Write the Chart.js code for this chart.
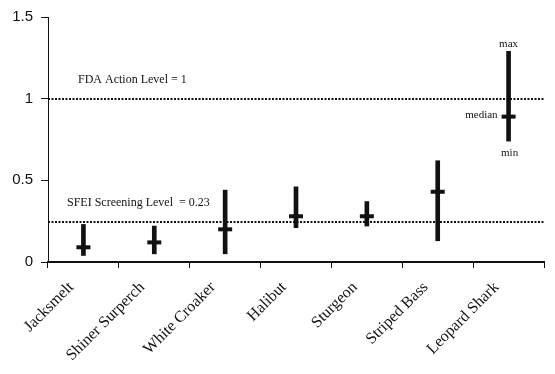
<!DOCTYPE html>
<html>
<head>
<meta charset="utf-8">
<script src="https://cdn.jsdelivr.net/npm/chart.js@4/dist/chart.umd.min.js"></script>
<style>
  body { margin: 0; background: #fff; }
  #wrap { width: 555px; height: 374px; }
</style>
</head>
<body>
<div id="wrap"><canvas id="myChart" width="555" height="374"></canvas></div>
<script>
// Species on the x axis
const categories = ['Jacksmelt', 'Shiner Surperch', 'White Croaker', 'Halibut', 'Sturgeon', 'Striped Bass', 'Leopard Shark'];

// Concentrations
const minValues = [0.04, 0.05, 0.05, 0.21, 0.22, 0.13, 0.74];
const medianValues = [0.09, 0.12, 0.20, 0.28, 0.28, 0.43, 0.89];
const maxValues = [0.23, 0.22, 0.44, 0.46, 0.37, 0.62, 1.29];

// Y axis ticks
const yTickValues = [0, 0.5, 1, 1.5];

// Reference levels (value where each dotted line sits) and their labels
const levelValues = [1, 0.245];
const levelLabels = ['FDA Action Level = 1', 'SFEI Screening Level  = 0.23'];

// Key words next to the last species
const keyLabels = ['max', 'median', 'min'];

const serif = '"Liberation Serif", "DejaVu Serif", serif';
const ink = '#111';

// Dotted lines and the text notes
const notesPlugin = {
  id: 'notes',
  beforeDatasetsDraw(chart) {
    var ctx = chart.ctx;
    var area = chart.chartArea;
    var y = chart.scales.y;
    var x = chart.scales.x;
    ctx.save();
    ctx.strokeStyle = ink;
    ctx.lineWidth = 2;
    ctx.setLineDash([2, 1.5]);
    levelValues.forEach(function (v) {
      var py = Math.round(y.getPixelForValue(v));
      ctx.beginPath();
      ctx.moveTo(area.left, py);
      ctx.lineTo(area.right, py);
      ctx.stroke();
    });
    ctx.setLineDash([]);

    ctx.fillStyle = ink;
    ctx.font = '12px ' + serif;
    ctx.textAlign = 'left';
    ctx.textBaseline = 'middle';
    ctx.fillText(levelLabels[0], area.left + 30, y.getPixelForValue(levelValues[0]) - 19);
    ctx.fillText(levelLabels[1], area.left + 19, y.getPixelForValue(levelValues[1]) - 19);

    // max / median / min beside the last range
    var last = categories.length - 1;
    var px = x.getPixelForValue(last);
    ctx.font = '11px ' + serif;
    ctx.textAlign = 'center';
    ctx.fillText(keyLabels[0], px, y.getPixelForValue(maxValues[last]) - 7);
    ctx.textAlign = 'right';
    ctx.fillText(keyLabels[1], px - 11, y.getPixelForValue(medianValues[last]) - 2);
    ctx.textAlign = 'center';
    ctx.fillText(keyLabels[2], px + 1, y.getPixelForValue(minValues[last]) + 12);
    ctx.restore();
  }
};

// Define the setup section
const data = {
  labels: categories,
  datasets: [{
    type: 'line',
    label: 'median',
    data: medianValues,
    showLine: false,
    pointStyle: 'line',
    pointRadius: 7,
    pointHoverRadius: 7,
    borderWidth: 4,
    borderColor: ink,
    backgroundColor: ink,
    order: 1
  }, {
    type: 'bar',
    label: 'range',
    data: categories.map(function (c, i) { return [minValues[i], maxValues[i]]; }),
    backgroundColor: ink,
    barThickness: 4,
    order: 2
  }]
};

// Define the config section
const config = {
  type: 'bar',
  data: data,
  plugins: [notesPlugin],
  options: {
    responsive: false,
    animation: false,
    events: [],
    layout: { padding: { top: 17, right: 0, bottom: 0, left: 0 } },
    plugins: {
      legend: { display: false },
      tooltip: { enabled: false }
    },
    scales: {
      x: {
        offset: true,
        afterFit: function (scale) { scale.height = 112; },
        border: { color: ink, width: 2 },
        grid: { drawOnChartArea: false, offset: true, color: ink, tickLength: 6 },
        ticks: {
          color: ink,
          minRotation: 45,
          maxRotation: 45,
          padding: 10,
          labelOffset: -12,
          font: { family: serif, size: 16 }
        }
      },
      y: {
        min: 0,
        max: 1.5,
        afterBuildTicks: function (scale) {
          scale.ticks = yTickValues.map(function (v) { return { value: v }; });
        },
        afterFit: function (scale) { scale.width = 48; },
        border: { color: ink, width: 1 },
        grid: { drawOnChartArea: false, color: ink, tickLength: 7 },
        ticks: {
          color: ink,
          padding: 8,
          callback: function (value) { return String(value); },
          font: { family: '"Liberation Sans", Arial, sans-serif', size: 15 }
        }
      }
    }
  }
};

// Create a new chart instance
var ctx = document.getElementById('myChart').getContext('2d');
var myChart = new Chart(ctx, config);
</script>
</body>
</html>
